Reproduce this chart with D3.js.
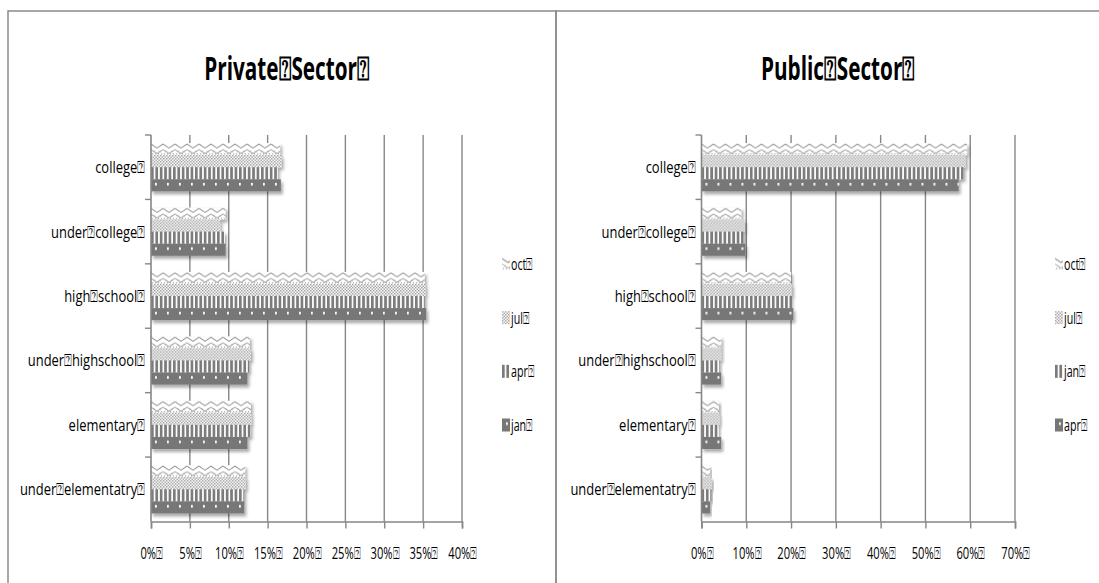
<!DOCTYPE html>
<html>
<head>
<meta charset="utf-8">
<script src="https://cdn.jsdelivr.net/npm/d3@7"></script>
<style>
  body { margin: 0; background: #fff; }
  svg { display: block; }
  text { font-family: "Open Sans", "Noto Sans", "DejaVu Sans", sans-serif; fill: #000; }
</style>
</head>
<body>
<svg id="chart" width="1099" height="583"></svg>
<script>
// Education level categories, shared by both panels (top to bottom)
const categories = ["college⍰", "under⍰college⍰", "high⍰school⍰", "under⍰highschool⍰", "elementary⍰", "under⍰elementatry⍰"];

// Private sector: share (%) per month
const privateSeries = ["oct", "jul", "apr", "jan"];
const privateOct = [16.6, 9.6, 35.2, 12.7, 12.85, 12.1];
const privateJul = [16.8, 8.9, 35.3, 12.85, 12.9, 12.2];
const privateApr = [16.3, 9.5, 35.2, 12.6, 12.8, 12.0];
const privateJan = [16.7, 9.6, 35.4, 12.4, 12.4, 12.0];
const privateTicks = [0, 5, 10, 15, 20, 25, 30, 35, 40];

// Public sector: share (%) per month
const publicSeries = ["oct", "jul", "jan", "apr"];
const publicOct = [59.3, 8.9, 20.0, 4.4, 3.9, 1.9];
const publicJul = [59.0, 9.6, 20.2, 4.4, 4.0, 2.3];
const publicJan = [58.5, 9.4, 20.0, 4.0, 3.8, 2.2];
const publicApr = [57.4, 9.8, 20.5, 4.4, 4.4, 1.9];
const publicTicks = [0, 10, 20, 30, 40, 50, 60, 70];

const titles = ["Private⍰Sector⍰", "Public⍰Sector⍰"];

const svg = d3.select("#chart");
const defs = svg.append("defs");

// soft drop shadow under the bars
const shadow = defs.append("filter").attr("id", "shadow")
  .attr("x", "-5%").attr("y", "-30%").attr("width", "120%").attr("height", "190%");
shadow.append("feDropShadow").attr("dx", 2).attr("dy", 3).attr("stdDeviation", 1.6)
  .attr("flood-color", "#000").attr("flood-opacity", 0.33);

const GRID = "#878787";
const DARK = "#777777";

// fill patterns, one per series slot (top to bottom)
const fills = ["zigzag", "dots", "stripes", "solid"];
let patternCount = 0;
function makePattern(kind, px, py, h) {
  const id = "pat" + (patternCount++);
  const p = defs.append("pattern").attr("id", id)
    .attr("patternUnits", "userSpaceOnUse").attr("x", px).attr("y", py);
  if (kind === "solid") {
    p.attr("width", 12).attr("height", h);
    p.append("rect").attr("width", 12).attr("height", h).attr("fill", DARK);
    p.append("rect").attr("x", 4).attr("y", h * 0.3).attr("width", 1.8).attr("height", 2.6).attr("fill", "#fff");
  } else if (kind === "stripes") {
    p.attr("width", 4.4).attr("height", h);
    p.append("rect").attr("width", 4.4).attr("height", h).attr("fill", "#fff");
    p.append("rect").attr("width", 2.7).attr("height", h).attr("fill", "#7b7b7b");
  } else if (kind === "dots") {
    p.attr("width", 3).attr("height", 3);
    p.append("rect").attr("width", 3).attr("height", 3).attr("fill", "#fff");
    p.append("rect").attr("width", 1.4).attr("height", 1.4).attr("fill", "#9a9a9a");
    p.append("rect").attr("x", 1.5).attr("y", 1.5).attr("width", 1.4).attr("height", 1.4).attr("fill", "#9a9a9a");
  } else {
    p.attr("width", 12).attr("height", h);
    p.append("rect").attr("width", 12).attr("height", h).attr("fill", "#fff");
    p.append("path").attr("d", "M0,1 L6,5 L12,1").attr("fill", "none")
      .attr("stroke", "#999").attr("stroke-width", 1.1);
    p.append("path").attr("d", "M0,6.5 L6,10.5 L12,6.5").attr("fill", "none")
      .attr("stroke", "#b0b0b0").attr("stroke-width", 1);
    [[3, 8.5], [9, 8.5], [1.5, 11], [4.5, 11], [7.5, 11], [10.5, 11]].forEach(([dx, dy]) =>
      p.append("rect").attr("x", dx - 0.6).attr("y", dy - 0.6).attr("width", 1.2).attr("height", 1.2).attr("fill", "#a0a0a0"));
  }
  return id;
}

// text squeezed horizontally to a reference width
function squeezeFactor(sample, size, weight, targetWidth) {
  const t = svg.append("text").attr("font-size", size).attr("font-weight", weight).text(sample);
  const w = t.node().getComputedTextLength();
  t.remove();
  return targetWidth / w;
}
const SIZE_TITLE = 33, SIZE_CAT = 17, SIZE_TICK = 16, SIZE_LEG = 16;
const fTitle = squeezeFactor(titles[0], SIZE_TITLE, "bold", 165);
const fCat = squeezeFactor(categories[5], SIZE_CAT, "normal", 125);
const fTick = squeezeFactor("40%⍰", SIZE_TICK, "normal", 29);
const fLegend = squeezeFactor("oct⍰", SIZE_LEG, "normal", 22);

function label(g, str, x, y, size, weight, anchor, f) {
  return g.append("text")
    .attr("transform", `translate(${x},${y}) scale(${f},1)`)
    .attr("font-size", size).attr("font-weight", weight)
    .attr("text-anchor", anchor).text(str);
}

// panel frames
svg.append("rect").attr("x", 8).attr("y", 11).attr("width", 548).attr("height", 620)
  .attr("fill", "none").attr("stroke", "#8a8a8a").attr("stroke-width", 1.5);
svg.append("rect").attr("x", 556).attr("y", 11).attr("width", 620).attr("height", 620)
  .attr("fill", "none").attr("stroke", "#8a8a8a").attr("stroke-width", 1.5);

const TOP = 135, BOTTOM = 521.5;

function drawPanel(cfg) {
  const g = svg.append("g");
  const x = d3.scaleLinear().domain([0, cfg.max]).range([cfg.x0, cfg.x1]);
  const y = d3.scaleBand().domain(categories).range([TOP, BOTTOM])
    .paddingInner(0.25).paddingOuter(0.125);
  const ys = d3.scaleBand().domain(cfg.series).range([0, y.bandwidth()]);

  // title
  label(g, cfg.title, cfg.titleX, 80, SIZE_TITLE, "bold", "middle", fTitle);

  // vertical gridlines
  g.append("g").selectAll("line").data(cfg.ticks.filter(d => d > 0)).join("line")
    .attr("x1", d => x(d)).attr("x2", d => x(d))
    .attr("y1", TOP).attr("y2", BOTTOM)
    .attr("stroke", GRID).attr("stroke-width", 1.4);

  // bars
  const rows = categories.flatMap((c, ci) =>
    cfg.series.map((s, si) => ({ c, s, si, v: cfg.values[s][ci] })));
  g.append("g").selectAll("rect").data(rows).join("rect")
    .attr("x", x(0))
    .attr("y", d => y(d.c) + ys(d.s))
    .attr("width", d => x(d.v) - x(0))
    .attr("height", ys.bandwidth())
    .attr("fill", d => `url(#${makePattern(fills[d.si], x(0), y(d.c) + ys(d.s), ys.bandwidth())})`)
    .attr("filter", "url(#shadow)");

  // bottom axis
  const xAxis = g.append("g").attr("transform", `translate(0,${BOTTOM})`)
    .call(d3.axisBottom(x).tickValues(cfg.ticks).tickSize(7).tickPadding(0).tickFormat(d => d + "%⍰"));
  xAxis.select(".domain").attr("stroke", GRID).attr("stroke-width", 1.6);
  xAxis.selectAll(".tick line").attr("stroke", GRID).attr("stroke-width", 1.4);
  xAxis.selectAll(".tick text")
    .attr("y", 0).attr("dy", null)
    .attr("transform", `translate(0,37.5) scale(${fTick},1)`)
    .attr("font-size", SIZE_TICK).attr("font-family", null).attr("fill", "#000");

  // left axis: line, boundary ticks, category labels
  g.append("line").attr("x1", x(0)).attr("x2", x(0)).attr("y1", TOP).attr("y2", BOTTOM)
    .attr("stroke", GRID).attr("stroke-width", 1.6);
  const step = y.step();
  const bounds = d3.range(categories.length).map(i => y(categories[i]) - step * 0.125);
  g.append("g").selectAll("line").data(bounds).join("line")
    .attr("x1", x(0) - 6).attr("x2", x(0))
    .attr("y1", d => d).attr("y2", d => d)
    .attr("stroke", GRID).attr("stroke-width", 1.4);
  categories.forEach(c =>
    label(g, c, x(0) - 6, y(c) + y.bandwidth() / 2 + 6, SIZE_CAT, "normal", "end", fCat));

  // legend
  const legY = d3.scalePoint().domain(cfg.series).range([264, 425]);
  cfg.series.forEach((s, si) => {
    const ly = legY(s) - 6.5;
    const id = makePattern(fills[si], cfg.legendX, ly, 13);
    g.append("rect").attr("x", cfg.legendX).attr("y", ly).attr("width", 8).attr("height", 13)
      .attr("fill", `url(#${id})`);
    label(g, s + "⍰", cfg.legendX + 9, legY(s) + 6, SIZE_LEG, "normal", "start", fLegend);
  });
}

drawPanel({
  title: titles[0], titleX: 287,
  series: privateSeries,
  values: { oct: privateOct, jul: privateJul, apr: privateApr, jan: privateJan },
  max: 40, ticks: privateTicks, x0: 151, x1: 462, legendX: 502
});

drawPanel({
  title: titles[1], titleX: 838,
  series: publicSeries,
  values: { oct: publicOct, jul: publicJul, jan: publicJan, apr: publicApr },
  max: 70, ticks: publicTicks, x0: 701.5, x1: 1015, legendX: 1055
});
</script>
</body>
</html>
